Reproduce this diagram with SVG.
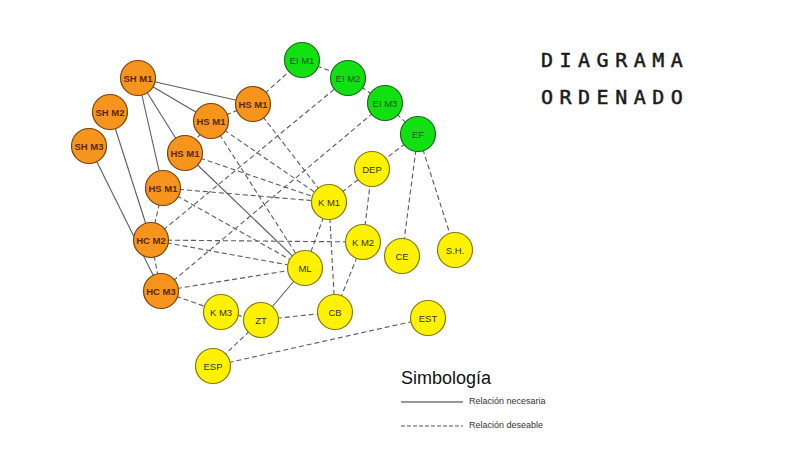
<svg xmlns="http://www.w3.org/2000/svg" width="800" height="450" viewBox="0 0 800 450">
<style>
.e{stroke:#5a5a66;stroke-width:1.1;fill:none}
.d{stroke-dasharray:5,3}
.o circle{fill:#F7941D;stroke:#7a4410;stroke-width:1.2}
.g circle{fill:#11E011;stroke:#1d6b1d;stroke-width:1.2}
.y circle{fill:#FFF200;stroke:#857a10;stroke-width:1.2}
text{font-family:"Liberation Sans",Arial,sans-serif;text-anchor:middle}
.o text{font-size:9.5px;font-weight:bold;fill:#5a2a05}
.g text{font-size:9.5px;fill:#155515}
.y text{font-size:9.5px;fill:#333}
.t{font-family:"DejaVu Sans Mono",monospace;font-size:20px;letter-spacing:6.5px;text-anchor:start;fill:#1a1a1a;stroke:#1a1a1a;stroke-width:0.5}
</style>
<rect width="800" height="450" fill="#fff"/>
<g id="connectors">
<line class="e" x1="138" y1="78" x2="253" y2="104"/>
<line class="e" x1="138" y1="78" x2="211" y2="121"/>
<line class="e" x1="138" y1="78" x2="185" y2="153"/>
<line class="e" x1="138" y1="78" x2="163" y2="188"/>
<line class="e" x1="110" y1="112" x2="151" y2="240"/>
<line class="e" x1="89" y1="146" x2="161" y2="291"/>
<line class="e" x1="185" y1="153" x2="305" y2="268"/>
<line class="e" x1="261" y1="320" x2="305" y2="268"/>
<line class="e d" x1="253" y1="104" x2="211" y2="121"/>
<line class="e d" x1="211" y1="121" x2="185" y2="153"/>
<line class="e d" x1="253" y1="104" x2="302" y2="60"/>
<line class="e d" x1="253" y1="104" x2="329" y2="202"/>
<line class="e d" x1="211" y1="121" x2="329" y2="202"/>
<line class="e d" x1="211" y1="121" x2="305" y2="268"/>
<line class="e d" x1="185" y1="153" x2="329" y2="202"/>
<line class="e d" x1="163" y1="188" x2="329" y2="202"/>
<line class="e d" x1="163" y1="188" x2="305" y2="268"/>
<line class="e d" x1="163" y1="188" x2="151" y2="240"/>
<line class="e d" x1="151" y1="240" x2="161" y2="291"/>
<line class="e d" x1="151" y1="240" x2="363" y2="242"/>
<line class="e d" x1="151" y1="240" x2="305" y2="268"/>
<line class="e d" x1="151" y1="240" x2="348" y2="78"/>
<line class="e d" x1="161" y1="291" x2="385" y2="103"/>
<line class="e d" x1="161" y1="291" x2="305" y2="268"/>
<line class="e d" x1="161" y1="291" x2="221" y2="312"/>
<line class="e d" x1="221" y1="312" x2="261" y2="320"/>
<line class="e d" x1="261" y1="320" x2="335" y2="312"/>
<line class="e d" x1="261" y1="320" x2="213" y2="366"/>
<line class="e d" x1="213" y1="366" x2="428" y2="318"/>
<line class="e d" x1="329" y1="202" x2="305" y2="268"/>
<line class="e d" x1="329" y1="202" x2="372" y2="169"/>
<line class="e d" x1="329" y1="202" x2="335" y2="312"/>
<line class="e d" x1="363" y1="242" x2="372" y2="169"/>
<line class="e d" x1="363" y1="242" x2="335" y2="312"/>
<line class="e d" x1="418" y1="134" x2="372" y2="169"/>
<line class="e d" x1="418" y1="134" x2="402" y2="256"/>
<line class="e d" x1="418" y1="134" x2="455" y2="250"/>
<line class="e d" x1="302" y1="60" x2="348" y2="78"/>
<line class="e d" x1="348" y1="78" x2="385" y2="103"/>
<line class="e d" x1="385" y1="103" x2="418" y2="134"/>
</g>
<g id="SHM1" class="o"><circle cx="138" cy="78" r="17.5"/><text x="138" y="81.5">SH M1</text></g>
<g id="SHM2" class="o"><circle cx="110" cy="112" r="17.5"/><text x="110" y="115.5">SH M2</text></g>
<g id="SHM3" class="o"><circle cx="89" cy="146" r="17.5"/><text x="89" y="149.5">SH M3</text></g>
<g id="HSM1a" class="o"><circle cx="253" cy="104" r="17.5"/><text x="253" y="107.5">HS M1</text></g>
<g id="HSM1b" class="o"><circle cx="211" cy="121" r="17.5"/><text x="211" y="124.5">HS M1</text></g>
<g id="HSM1c" class="o"><circle cx="185" cy="153" r="17.5"/><text x="185" y="156.5">HS M1</text></g>
<g id="HSM1d" class="o"><circle cx="163" cy="188" r="17.5"/><text x="163" y="191.5">HS M1</text></g>
<g id="HCM2" class="o"><circle cx="151" cy="240" r="17.5"/><text x="151" y="243.5">HC M2</text></g>
<g id="HCM3" class="o"><circle cx="161" cy="291" r="17.5"/><text x="161" y="294.5">HC M3</text></g>
<g id="EIM1" class="g"><circle cx="302" cy="60" r="17.5"/><text x="302" y="63.5">EI M1</text></g>
<g id="EIM2" class="g"><circle cx="348" cy="78" r="17.5"/><text x="348" y="81.5">EI M2</text></g>
<g id="EIM3" class="g"><circle cx="385" cy="103" r="17.5"/><text x="385" y="106.5">EI M3</text></g>
<g id="EF" class="g"><circle cx="418" cy="134" r="17.5"/><text x="418" y="137.5">EF</text></g>
<g id="DEP" class="y"><circle cx="372" cy="169" r="17.5"/><text x="372" y="172.5">DEP</text></g>
<g id="KM1" class="y"><circle cx="329" cy="202" r="17.5"/><text x="329" y="205.5">K M1</text></g>
<g id="KM2" class="y"><circle cx="363" cy="242" r="17.5"/><text x="363" y="245.5">K M2</text></g>
<g id="CE" class="y"><circle cx="402" cy="256" r="17.5"/><text x="402" y="259.5">CE</text></g>
<g id="SH" class="y"><circle cx="455" cy="250" r="17.5"/><text x="455" y="253.5">S.H.</text></g>
<g id="ML" class="y"><circle cx="305" cy="268" r="17.5"/><text x="305" y="271.5">ML</text></g>
<g id="KM3" class="y"><circle cx="221" cy="312" r="17.5"/><text x="221" y="315.5">K M3</text></g>
<g id="ZT" class="y"><circle cx="261" cy="320" r="17.5"/><text x="261" y="323.5">ZT</text></g>
<g id="CB" class="y"><circle cx="335" cy="312" r="17.5"/><text x="335" y="315.5">CB</text></g>
<g id="EST" class="y"><circle cx="428" cy="318" r="17.5"/><text x="428" y="321.5">EST</text></g>
<g id="ESP" class="y"><circle cx="213" cy="366" r="17.5"/><text x="213" y="369.5">ESP</text></g>
<g id="title">
<text class="t" x="541" y="67">DIAGRAMA</text>
<text class="t" x="541" y="104">ORDENADO</text>
</g>
<g id="legend">
<text x="401" y="384" style="font-size:18px;text-anchor:start;fill:#111">Simbología</text>
<line x1="401" y1="402" x2="463" y2="402" stroke="#333" stroke-width="1"/>
<text x="469" y="404" style="font-size:9px;text-anchor:start;fill:#333">Relación necesaria</text>
<line x1="401" y1="426" x2="463" y2="426" stroke="#555" stroke-width="1" stroke-dasharray="4,2"/>
<text x="469" y="428" style="font-size:9px;text-anchor:start;fill:#333">Relación deseable</text>
</g>
</svg>
